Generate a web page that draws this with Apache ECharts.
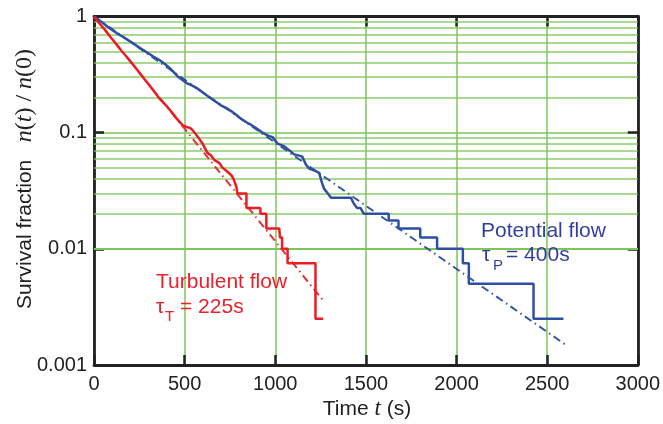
<!DOCTYPE html>
<html>
<head>
<meta charset="utf-8">
<script src="https://cdn.jsdelivr.net/npm/echarts@6/dist/echarts.min.js"></script>
<style>html,body{margin:0;padding:0;background:#fff}#c{width:663px;height:424px}</style>
</head>
<body>
<div id="c"></div>
<script>
// ---- data ----
const xTickLabels = ['0','500','1000','1500','2000','2500','3000'];
const yTickLabels = ['0.001','0.01','0.1','1'];
const minorY = [0.002,0.003,0.004,0.005,0.006,0.007,0.008,0.009,
                0.02,0.03,0.04,0.05,0.06,0.07,0.08,0.09,
                0.2,0.3,0.4,0.5,0.6,0.7,0.8,0.9];
// Potential flow (blue), time [s], survival fraction
const potentialData = [
 [0,1],[40,0.9],[88,0.79],[125,0.72],[159,0.67],[185,0.63],[214,0.59],[250,0.54],
 [297,0.485],[330,0.45],[363,0.42],[400,0.38],[429,0.346],[462,0.305],[511,0.267],
 [540,0.255],[566,0.242],[595,0.225],[621,0.21],[650,0.195],[676,0.183],[700,0.172],
 [731,0.163],[760,0.152],[786,0.142],[810,0.132],[841,0.123],[870,0.116],[896,0.109],
 [930,0.1],[967,0.093],[984,0.092],[1011,0.081],[1050,0.076],[1080,0.07],[1104,0.065],
 [1148,0.0625],[1170,0.053],[1187,0.049],[1220,0.047],[1242,0.045],[1258,0.037],
 [1269,0.033],[1290,0.03],[1308,0.0275],[1418,0.0275],[1430,0.025],[1451,0.0225],
 [1470,0.0225],[1489,0.02],[1626,0.02],[1626,0.0175],[1680,0.0175],[1680,0.015],
 [1800,0.015],[1800,0.0125],[1893,0.0125],[1893,0.01],[2035,0.01],[2035,0.0075],
 [2068,0.0075],[2068,0.005],[2425,0.005],[2425,0.0025],[2590,0.0025]
];
// Turbulent flow (red)
const turbulentData = [
 [0,1],[30,0.87],[60,0.77],[90,0.67],[120,0.585],[150,0.51],[180,0.45],[210,0.395],
 [240,0.345],[270,0.3],[300,0.262],[330,0.228],[363,0.195],[400,0.17],[434,0.147],
 [460,0.13],[489,0.116],[510,0.112],[530,0.11],[544,0.105],[560,0.098],[582,0.088],
 [600,0.08],[626,0.067],[645,0.064],[665,0.058],[690,0.055],[709,0.05],[730,0.047],
 [758,0.043],[770,0.04],[786,0.034],[791,0.03],[841,0.03],[841,0.0225],[918,0.0225],
 [918,0.02],[951,0.02],[951,0.015],[1022,0.015],[1026,0.0125],[1038,0.0125],[1038,0.01],
 [1068,0.01],[1068,0.0075],[1222,0.0075],[1222,0.0025],[1265,0.0025]
];
// exponential fits (straight lines on the log axis)
const potentialFit = [[0,1],[2600,0.0015]];
const turbulentFit = [[0,1],[1270,0.0035]];

// ---- chart ----
const GREEN = '#7cc65a';
const BORDER = '#222';
const chart = echarts.init(document.getElementById('c'), null, {renderer:'canvas'});
const font = 'Liberation Sans, Arial, sans-serif';
const serif = 'Liberation Serif, Times New Roman, serif';
const axisCommon = {
  axisLine:{show:true, onZero:false, lineStyle:{color:BORDER, width:2.8}},
  axisTick:{show:true, inside:true, length:10, lineStyle:{color:BORDER, width:2.5}}
};
chart.setOption({
  animation:false,
  backgroundColor:'#fff',
  grid:{left:94, right:23, top:16.5, bottom:59, containLabel:false},
  xAxis:[
    Object.assign({type:'value', min:0, max:3000, interval:500, position:'bottom',
      axisLabel:{fontSize:20, color:'#222', fontFamily:font, margin:9,
        formatter:v=>xTickLabels[Math.round(v/500)]},
      splitLine:{show:true, lineStyle:{color:GREEN, width:1.5}}}, axisCommon),
    Object.assign({type:'value', min:0, max:3000, interval:500, position:'top',
      axisLabel:{show:false}, splitLine:{show:false}}, axisCommon)
  ],
  yAxis:[
    Object.assign({type:'log', logBase:10, min:0.001, max:1, interval:1, position:'left',
      axisLabel:{fontSize:20, color:'#222', fontFamily:font, margin:7,
        formatter:v=>yTickLabels[Math.round(Math.log10(v))+3]},
      splitLine:{show:true, lineStyle:{color:GREEN, width:1.6}}}, axisCommon),
    Object.assign({type:'log', logBase:10, min:0.001, max:1, interval:1, position:'right',
      axisLabel:{show:false}, splitLine:{show:false}}, axisCommon)
  ],
  series:[
    {type:'line', name:'gridMinor', data:[], silent:true, z:1,
      markLine:{silent:true, z:1, symbol:['none','none'], label:{show:false}, animation:false,
        lineStyle:{color:GREEN, width:1.6, type:'solid', opacity:0.9},
        data:minorY.map(v=>({yAxis:v}))}},
    {type:'line', name:'Potential fit', data:potentialFit, showSymbol:false, symbol:'none', z:3,
      lineStyle:{color:'#3453a6', width:2, type:[8,4,1.5,4]}},
    {type:'line', name:'Turbulent fit', data:turbulentFit, showSymbol:false, symbol:'none', z:3,
      lineStyle:{color:'#e8303a', width:2, type:[8,4,1.5,4]}},
    {type:'line', name:'Potential flow', data:potentialData, showSymbol:false, symbol:'none', z:4,
      lineStyle:{color:'#2f4fa2', width:2.5}},
    {type:'line', name:'Turbulent flow', data:turbulentData, showSymbol:false, symbol:'none', z:4,
      lineStyle:{color:'#ec1c24', width:2.5}}
  ],
  graphic:[
    {type:'text', x:25, y:179, rotation:Math.PI/2, z:10,
      style:{text:'{s|Survival fraction}{g|   }{m|n}{r|(}{m|t}{r|) / }{m|n}{r|(0)}',
        textAlign:'center', textVerticalAlign:'middle',
        rich:{s:{fontSize:21, fontFamily:font, fill:'#222'},
              g:{fontSize:21, fontFamily:font},
              m:{fontSize:24, fontFamily:serif, fontStyle:'italic', fill:'#222'},
              r:{fontSize:24, fontFamily:serif, fill:'#222'}}}},
    {type:'text', x:367, y:409, z:10,
      style:{text:'{s|Time }{m|t}{s| (s)}', textAlign:'center', textVerticalAlign:'middle',
        rich:{s:{fontSize:21, fontFamily:font, fill:'#222'},
              m:{fontSize:23, fontFamily:serif, fontStyle:'italic', fill:'#222'}}}},
    {type:'text', x:481, y:231, z:10,
      style:{text:'Potential flow', font:'21px '+font, fill:'#343f9c', textVerticalAlign:'middle'}},
    {type:'text', x:482, y:255, z:10,
      style:{text:'τ', font:'21px '+font, fill:'#343f9c', textVerticalAlign:'middle'}},
    {type:'text', x:493, y:266, z:10,
      style:{text:'P', font:'15px '+font, fill:'#343f9c', textVerticalAlign:'middle'}},
    {type:'text', x:506, y:255, z:10,
      style:{text:'= 400s', font:'21px '+font, fill:'#343f9c', textVerticalAlign:'middle'}},
    {type:'text', x:156, y:282, z:10,
      style:{text:'Turbulent flow', font:'21px '+font, fill:'#e8212b', textVerticalAlign:'middle'}},
    {type:'text', x:156, y:307, z:10,
      style:{text:'τ', font:'21px '+font, fill:'#e8212b', textVerticalAlign:'middle'}},
    {type:'text', x:165, y:317, z:10,
      style:{text:'T', font:'15px '+font, fill:'#e8212b', textVerticalAlign:'middle'}},
    {type:'text', x:180, y:307, z:10,
      style:{text:'= 225s', font:'21px '+font, fill:'#e8212b', textVerticalAlign:'middle'}}
  ]
});
</script>
</body>
</html>
